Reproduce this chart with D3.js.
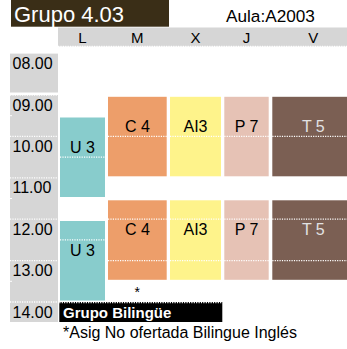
<!DOCTYPE html>
<html>
<head>
<meta charset="utf-8">
<script src="https://cdn.jsdelivr.net/npm/d3@7"></script>
<style>
  html, body { margin: 0; padding: 0; background: #fff; }
  svg { display: block; font-family: "Liberation Sans", Arial, sans-serif; }
</style>
</head>
<body>
<svg id="chart" width="347" height="349"></svg>
<script>
// ---- data ----
const title = "Grupo 4.03";
const room = "Aula:A2003";
const days = ["L", "M", "X", "J", "V"];
const hourLabels = ["08.00", "09.00", "10.00", "11.00", "12.00", "13.00", "14.00"];
const hourValues = [8, 9, 10, 11, 12, 13, 14];
const halfTicks = [9.5, 11.5, 13.5];
const subjects = ["U 3", "C 4", "AI3", "P 7", "T 5"];
const blockDay   = ["L", "M", "X", "J", "V", "L", "M", "X", "J", "V"];
const blockLabel = ["U 3", "C 4", "AI3", "P 7", "T 5", "U 3", "C 4", "AI3", "P 7", "T 5"];
const blockStart = [9.5, 9, 9, 9, 9, 12, 11.5, 11.5, 11.5, 11.5];
const blockEnd   = [11.5, 11, 11, 11, 11, 14, 13.5, 13.5, 13.5, 13.5];
const blockMarks = [[10.5], [10], [10], [10], [10], [12.5], [12, 13], [12, 13], [12, 13], [12, 13]];
const noteDay = "M";
const noteTime = 13.5;
const bilingualLabel = "Grupo Bilingüe";
const footnote = "*Asig No ofertada Bilingue Inglés";

// ---- scales ----
const svg = d3.select("#chart");
const y = d3.scaleLinear().domain([8, 14]).range([53.6, 302]);
const colLeft = d3.scaleOrdinal().domain(days).range([60, 108, 170, 224.3, 272.3]);
const colWidth = d3.scaleOrdinal().domain(days).range([45, 58.7, 51, 44.4, 82]);
const colCenter = d => colLeft(d) + colWidth(d) / 2;
const fill = d3.scaleOrdinal().domain(subjects)
  .range(["#88cccc", "#ed9e6a", "#fef38b", "#e6c2b5", "#7b5f53"]);
const textColor = d3.scaleOrdinal().domain(subjects)
  .range(["#000", "#000", "#000", "#000", "#e2e2e2"]);

const dotted = (g, x1, x2, yy) => g.append("line")
  .attr("x1", x1).attr("x2", x2).attr("y1", yy).attr("y2", yy)
  .attr("stroke", "#fff").attr("stroke-width", 1.3).attr("stroke-dasharray", "1.2,1.2");

// ---- title ----
svg.append("rect").attr("x", 11).attr("y", 0).attr("width", 158).attr("height", 26.7).attr("fill", "#3a2e17");
svg.append("text").attr("x", 14).attr("y", 21.5).attr("fill", "#fff").attr("font-size", 22).text(title);
svg.append("text").attr("x", 226).attr("y", 21.7).attr("fill", "#000").attr("font-size", 17.2).text(room);

// ---- day header ----
const header = svg.append("g");
header.append("rect").attr("x", 58).attr("y", 27.5).attr("width", 289).attr("height", 19).attr("fill", "#d6d6d6");
dotted(header, 58, 347, 46.3);
header.selectAll("text.day").data(days).join("text")
  .attr("class", "day")
  .attr("x", d => colCenter(d)).attr("y", 42.8)
  .attr("text-anchor", "middle").attr("font-size", 15).attr("fill", "#000")
  .text(d => d);

// ---- time column ----
const tcol = svg.append("g");
tcol.append("rect").attr("x", 10).attr("y", y(8)).attr("width", 48).attr("height", y(9) - y(8) - 2.5).attr("fill", "#d6d6d6");
tcol.append("rect").attr("x", 10).attr("y", y(9)).attr("width", 48).attr("height", y(14) + 20 - y(9)).attr("fill", "#d6d6d6");
hourValues.slice(1).forEach(h => dotted(tcol, 10, 58, y(h)));
halfTicks.forEach(h => tcol.append("line").attr("x1", 10).attr("x2", 12).attr("y1", y(h)).attr("y2", y(h))
  .attr("stroke", "#fff").attr("stroke-width", 1));
tcol.selectAll("text.hour").data(hourLabels).join("text")
  .attr("class", "hour")
  .attr("x", 12.5).attr("y", (d, i) => y(hourValues[i]) + 15.6)
  .attr("font-size", 16).attr("fill", "#000")
  .text(d => d);

// ---- blocks ----
const blocks = blockLabel.map((label, i) => ({
  label, day: blockDay[i], start: blockStart[i], end: blockEnd[i], marks: blockMarks[i]
}));
const bg = svg.append("g");
blocks.forEach(b => {
  const x0 = colLeft(b.day), w = colWidth(b.day);
  const top = y(b.start) + 1.8, bottom = y(b.end) - 1.5;
  bg.append("rect").attr("x", x0).attr("y", top).attr("width", w).attr("height", bottom - top)
    .attr("fill", fill(b.label));
  b.marks.forEach(m => dotted(bg, x0, x0 + w, y(m)));
  bg.append("text").attr("x", colCenter(b.day)).attr("y", top + 35)
    .attr("text-anchor", "middle").attr("font-size", 16).attr("fill", textColor(b.label))
    .text(b.label);
});

// ---- note asterisk ----
svg.append("text").attr("x", colCenter(noteDay)).attr("y", y(noteTime) + 15.5)
  .attr("text-anchor", "middle").attr("font-size", 14).attr("fill", "#000").text("*");

// ---- bilingual box ----
svg.append("rect").attr("x", 59.3).attr("y", y(14)).attr("width", 163).attr("height", 20).attr("fill", "#000");
dotted(svg, 59.3, 222.3, y(14) + 0.5);
svg.append("text").attr("x", 63).attr("y", y(14) + 16.3).attr("fill", "#fff")
  .attr("font-size", 15).attr("font-weight", "bold").text(bilingualLabel);

// ---- footnote ----
svg.append("text").attr("x", 63).attr("y", 338.3).attr("fill", "#000").attr("font-size", 16).text(footnote);
</script>
</body>
</html>
